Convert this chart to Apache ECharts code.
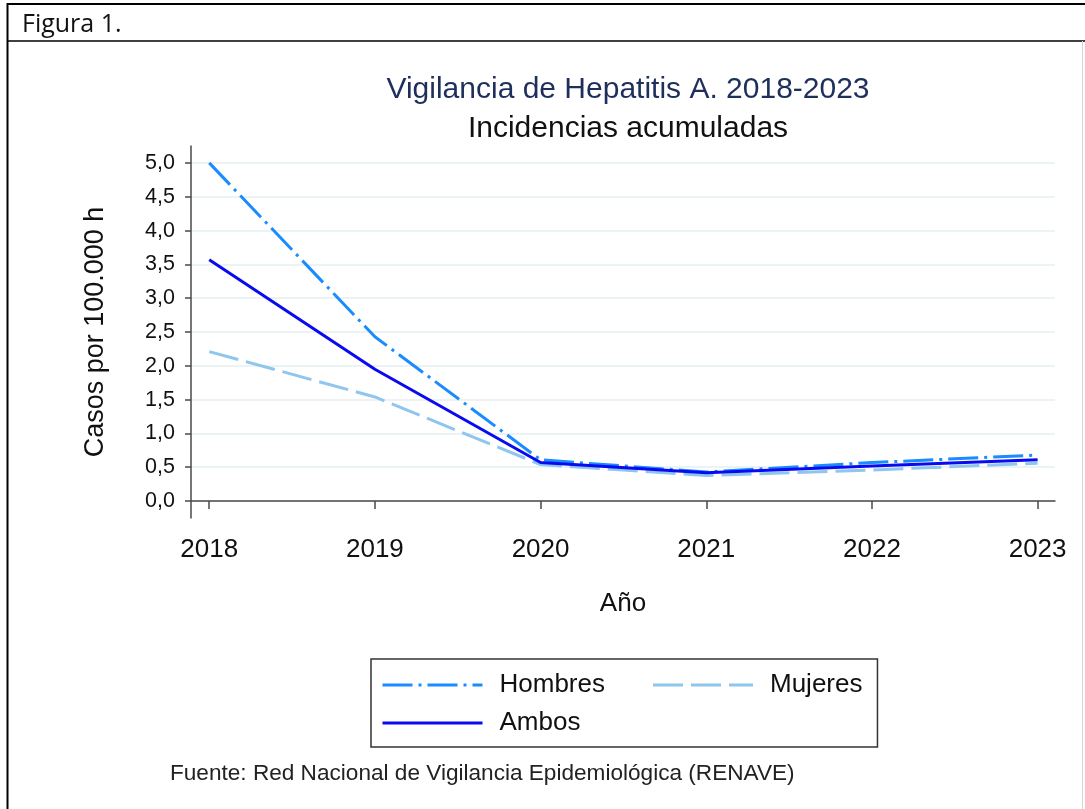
<!DOCTYPE html>
<html>
<head>
<meta charset="utf-8">
<script src="https://cdn.jsdelivr.net/npm/echarts@6/dist/echarts.min.js"></script>
<style>
html,body{margin:0;padding:0;background:#fff;}
#c{width:1085px;height:809px;}
</style>
</head>
<body>
<div id="c"></div>
<script>
const years = [2018, 2019, 2020, 2021, 2022, 2023];
const hombres = [5.00, 2.43, 0.61, 0.43, 0.57, 0.68];
const mujeres = [2.21, 1.54, 0.54, 0.38, 0.46, 0.56];
const ambos   = [3.57, 1.95, 0.57, 0.42, 0.52, 0.61];
const yTicks = [0, 0.5, 1, 1.5, 2, 2.5, 3, 3.5, 4, 4.5, 5];

const FONT = 'Liberation Sans, Arial, sans-serif';
const pairs = arr => years.map((y, i) => [y, arr[i]]);

const chart = echarts.init(document.getElementById('c'), null, {renderer: 'canvas'});
chart.setOption({
  animation: false,
  backgroundColor: '#fff',
  textStyle: {fontFamily: FONT},
  title: [
    {text: 'Vigilancia de Hepatitis A. 2018-2023', left: 623, top: 70, textAlign: 'center',
     textStyle: {fontFamily: FONT, fontSize: 30, fontWeight: 'normal', color: '#1e2f5c'}},
    {text: 'Incidencias acumuladas', left: 623, top: 109, textAlign: 'center',
     textStyle: {fontFamily: FONT, fontSize: 30, fontWeight: 'normal', color: '#111'}},
    {text: 'Fuente: Red Nacional de Vigilancia Epidemiológica (RENAVE)', left: 165, top: 757,
     textStyle: {fontFamily: FONT, fontSize: 22.6, fontWeight: 'normal', color: '#222'}},
    {text: 'Figura 1.', left: 17, top: 7,
     textStyle: {fontFamily: 'Open Sans, Noto Sans, sans-serif', fontSize: 25, fontWeight: 'normal', color: '#111'}}
  ],
  graphic: [
    {type: 'line', shape: {x1: 7, y1: 4, x2: 1085, y2: 4}, style: {stroke: '#000', lineWidth: 2}},
    {type: 'line', shape: {x1: 7.5, y1: 3, x2: 7.5, y2: 809}, style: {stroke: '#000', lineWidth: 2}},
    {type: 'line', shape: {x1: 7, y1: 41, x2: 1085, y2: 41}, style: {stroke: '#000', lineWidth: 1.5}},
    {type: 'line', shape: {x1: 1082.5, y1: 41, x2: 1082.5, y2: 809}, style: {stroke: '#d8d8d8', lineWidth: 1}}
  ],
  grid: [
    {left: 191, right: 30, top: 146, bottom: 291, containLabel: false},
    {left: 191, right: 30, top: 163, bottom: 308, containLabel: false}
  ],
  xAxis: [
    {type: 'value', gridIndex: 0, min: 2017.89, max: 2023.105,
     name: 'Año', nameLocation: 'middle', nameGap: 73,
     nameTextStyle: {fontFamily: FONT, fontSize: 26, color: '#111'},
     axisLine: {show: true, lineStyle: {color: '#4a4a4a', width: 1.5}},
     axisTick: {show: true, length: 8, customValues: years, lineStyle: {color: '#4a4a4a', width: 1.5}},
     axisLabel: {show: true, customValues: years, margin: 19, fontFamily: FONT, fontSize: 26, color: '#111',
                 formatter: v => String(Math.round(v))},
     splitLine: {show: false}},
    {type: 'value', gridIndex: 1, min: 2017.89, max: 2023.105, show: false}
  ],
  yAxis: [
    {type: 'value', gridIndex: 0, min: -0.25, max: 5.25,
     axisLine: {show: true, lineStyle: {color: '#4a4a4a', width: 1.5}},
     axisTick: {show: false}, axisLabel: {show: false}, splitLine: {show: false}},
    {type: 'value', gridIndex: 1, min: 0, max: 5, interval: 0.5,
     name: 'Casos por 100.000 h', nameLocation: 'middle', nameGap: 82,
     nameTextStyle: {fontFamily: FONT, fontSize: 27, color: '#111'},
     axisLine: {show: false},
     axisTick: {show: true, length: 6, lineStyle: {color: '#4a4a4a', width: 1.5}},
     axisLabel: {show: true, margin: 16, fontFamily: FONT, fontSize: 21.5, color: '#111',
                 formatter: v => v.toFixed(1).replace('.', ',')},
     splitLine: {show: true, lineStyle: {color: '#e6eff2', width: 1.5}}}
  ],
  legend: {
    left: 371, top: 659, width: 490,
    orient: 'horizontal',
    padding: [13, 15, 11, 10],
    itemGap: 12,
    itemWidth: 100, itemHeight: 27,
    borderColor: '#333', borderWidth: 1.5, borderRadius: 0,
    itemStyle: {opacity: 0},
    lineStyle: {width: 3},
    data: ['Hombres', 'Mujeres', 'Ambos'],
    formatter: name => name === 'Hombres' ? '{w|' + name + '}' : '{n|' + name + '}',
    textStyle: {
      fontFamily: FONT, fontSize: 26, color: '#111',
      rich: {
        w: {fontFamily: FONT, fontSize: 26, color: '#111', width: 140, lineHeight: 27, padding: [0, 0, 0, 12]},
        n: {fontFamily: FONT, fontSize: 26, color: '#111', lineHeight: 27, padding: [0, 0, 0, 12]}
      }
    }
  },
  series: [
    {name: 'Hombres', type: 'line', xAxisIndex: 0, yAxisIndex: 0, data: pairs(hombres),
     symbol: 'none', z: 3,
     lineStyle: {color: '#1a8cff', width: 3, type: [30, 6, 3, 6], cap: 'butt'},
     itemStyle: {color: '#1a8cff'}},
    {name: 'Mujeres', type: 'line', xAxisIndex: 0, yAxisIndex: 0, data: pairs(mujeres),
     symbol: 'none', z: 2,
     lineStyle: {color: '#8ec6f0', width: 3, type: [30, 8], cap: 'butt'},
     itemStyle: {color: '#8ec6f0'}},
    {name: 'Ambos', type: 'line', xAxisIndex: 0, yAxisIndex: 0, data: pairs(ambos),
     symbol: 'none', z: 4,
     lineStyle: {color: '#0a0af0', width: 3, type: 'solid'},
     itemStyle: {color: '#0a0af0'}}
  ]
});
</script>
</body>
</html>
